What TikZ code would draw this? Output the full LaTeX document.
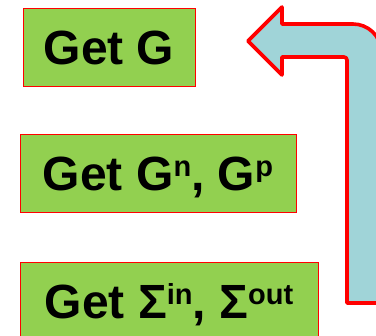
\documentclass[tikz,border=0pt]{standalone}
\usepackage{fontspec}
\setmainfont{Liberation Sans}
\definecolor{boxgreen}{RGB}{146,208,80}
\definecolor{arrowblue}{RGB}{160,212,216}
\newcommand{\upidx}[1]{\raisebox{14pt}{\fontsize{29}{29}\selectfont\bfseries #1}}
\tikzset{
  stepbox/.style={draw=red, line width=1pt, fill=boxgreen, inner sep=0pt,
    text height=34pt, text depth=0pt, minimum height=78pt,
    font=\fontsize{48}{50}\selectfont\bfseries},
  loop arrow/.style={draw=red, line width=3.6pt, fill=arrowblue, line join=round}
}
\begin{document}
\begin{tikzpicture}[x=1pt,y=-1pt]
  \useasboundingbox (0,0) rectangle (376,336);
  \clip (0,0) rectangle (376,336);
  % the three steps
  \node[stepbox, minimum width=172pt] (getg) at (109,48) {Get G};
  \node[stepbox, minimum width=276pt] (getgnp) at (158,174) {Get G\upidx{n}, G\upidx{p}};
  \node[stepbox, minimum width=298pt] (getsigma) at (169,302) {Get Σ\upidx{in}, Σ\upidx{out}};
  % bent block arrow leading back up to the first step
  \draw[loop arrow]
    (248,41) -- (282,7) -- (282,24) -- (353,24)
    .. controls (368,24) and (381,36) .. (381,51)
    -- (381,303) -- (347,303)
    [rounded corners=3pt] -- (347,57) [sharp corners] -- (282,57)
    -- (282,75) -- cycle;
\end{tikzpicture}
\end{document}
